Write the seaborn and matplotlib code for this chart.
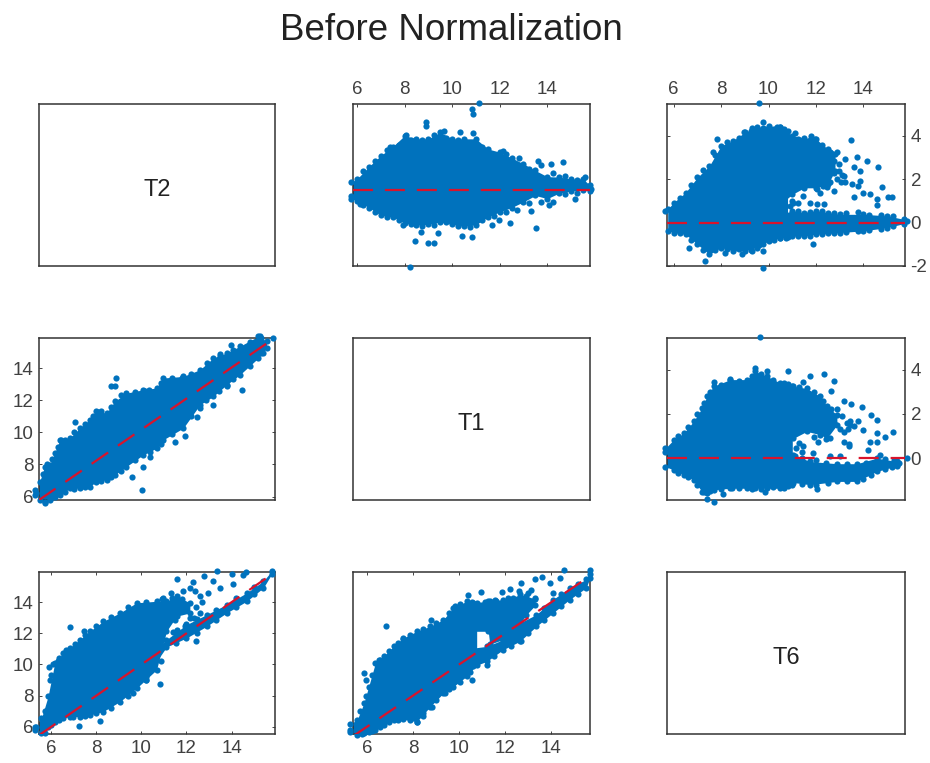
import matplotlib
matplotlib.use("Agg")
import matplotlib.pyplot as plt
import seaborn as sns

# The dense cores of the clouds cannot be read point by point, so each is an
# estimated envelope (x, upper, lower); separate dots are
# individually read values, including a run of dots along each bumpy edge.
BLUE = "#0072BD"
RED = "#d8142c"
TICKS = [6, 8, 10, 12, 14]

# Panel A: T2 / T1 (top middle)
a_band_x = [5.75,6,6.5,7,7.5,8,8.5,9,9.5,10,10.5,11,11.5,12,12.5,13,13.5,14,14.5,15,15.5,15.8]
a_band_up = [.36,.5,1.04,1.52,1.91,2.39,2.25,2.25,2.54,2.25,2.25,2.25,1.81,1.67,1.42,1.16,.87,.6,.58,.5,.5,.22]
a_band_lo = [-.36,-.46,-.75,-1.09,-1.16,-1.42,-1.52,-1.48,-1.38,-1.48,-1.57,-1.5,-1.16,-.94,-.75,-.5,-.22,-.36,-.12,-.03,.03,-.03]
a_x = [11.14,10.82,10.86,8.88,8.88,8.04,9.65,10.34,10.89,7.37,12.12,12.82,13.61,14.17,14.67,15.58,15.85,15.15,14.07,13.3,13.51,12.45,11.98,11.67,10.82,10.4,9.42,9.23,8.97,8.42,7.93,8.7,8.21,5.73,6.11,
       6.25,6.75,7.25,7.75,8.25,8.75,9.25,9.75,10.25,10.75,11.25,11.75,12.25,12.75,13.25,13.75,14.25,14.75,15.25,
       6.25,6.75,7.25,7.75,8.25,8.75,9.25,9.75,10.25,10.75,11.25,11.75,12.25,12.75,13.25,13.75,14.25,14.75,15.25]
a_y = [3.8,3.55,3.33,2.97,2.83,2.43,2.61,2.54,2.51,1.88,1.74,1.42,1.28,1.13,1.22,.58,.06,-.39,-.65,-.91,-1.62,-1.41,-1.3,-1.49,-2.03,-1.99,-1.88,-2.28,-2.28,-2.23,-1.49,-1.81,-3.33,-.26,-.58,
       .85,1.3,1.75,2,2.2,2.2,2.4,2.3,2.2,2,1.9,1.55,1.6,1.1,.95,1.1,.75,.62,.45,
       -.65,-.95,-1.15,-1.3,-1.45,-1.55,-1.5,-1.4,-1.55,-1.6,-1.3,-1.1,-.95,-.85,-.55,-.5,-.5,-.15,-.1]

# Panel B: T2 / T6 (top right)
b1_x = [5.75,6,6.5,7,7.5,8,8.5,9,9.5,10,10.5,10.8]
b1_up = [.62,.92,1.38,2.08,2.6,3.54,3.77,4.15,4.38,4.46,4.38,4.2]
b1_lo = [-.38,-.46,-.54,-1,-1.46,-1.15,-1.3,-1.3,-1.15,-.85,-.7,-.65]
b2_x = [10.5,11,11.5,12,12.5,12.8]
b2_up = [4.38,4,3.9,3.85,3.38,3.15]
b2_lo = [.85,1.3,1.6,1.6,1.77,2.38]
b3_x = [10.5,11,11.5,12,12.5,13,14,15,15.7]
b3_up = [.38,.54,.46,.54,.46,.38,.38,.31,.15]
b3_lo = [-.7,-.62,-.62,-.54,-.5,-.46,-.38,-.23,-.05]
b_x = [9.58,9.75,10.35,10.63,7.82,7.64,8.95,9.3,11.12,11.8,11.94,13.47,12.6,12.88,13.23,13.72,14.14,14.6,13.58,13.86,12.74,12.95,13.23,13.51,13.86,13.79,14.77,15.05,15.19,13.58,14,14.28,14.56,14.56,12.74,12.04,12.32,11.75,11.26,11.05,12.04,11.89,6.66,7.31,8.88,9.3,9.75,9.58,9.76,8.18,5.65,15.82,11.47,12.18,12.46,
       6.25,6.75,7.25,7.75,8.25,8.75,9.25,9.75,10.25,10.75,11.25,11.75,12.25,12.65,12.95,13.1,
       6.25,6.75,7.25,7.75,8.25,8.75,9.25,9.75,10.25,10.75,11.25,11.75,12.25,12.75,13.25,13.75,14.25,14.75,15.25,
       11.25,11.75,12.25,12.75,13.25,13.75,14.25,14.75,15.25,
       11,10.9,12.3,12.6,12.9,13.05,13.2,12.75]
b_y = [5.49,4.62,4.42,4.31,3.85,3.23,4.15,4.35,4.12,4,3.85,3.82,3.26,3.23,2.92,3,2.85,2.58,2.54,2.38,2.85,2.38,1.85,1.77,1.92,1.69,1.62,1.2,1.2,1.2,1.38,1.31,.82,1.08,1.46,1.54,.85,.92,.92,.92,.85,-1,-1.18,-1.77,-1.46,-1.31,-1.31,-1.03,-2.08,-1.38,.54,.08,1.23,1.38,1.62,
       1.15,1.75,2.4,3.1,3.7,3.9,4.2,4.35,4.3,4.1,3.85,3.8,3.55,3.2,2.7,2.2,
       -.5,-.8,-1.25,-1.25,-1.2,-1.2,-1.25,-1,-.8,-.7,-.62,-.6,-.52,-.5,-.45,-.4,-.35,-.28,-.18,
       .55,.5,.55,.42,.42,.48,.36,.36,.3,
       1,.75,1.7,1.85,2,1.85,2.15,2.3]

# Panel C: T1 vs T2 (middle left)
c_band_x = [5.6,5.82,6.03,6.25,6.46,6.68,7.1,7.53,7.96,8.25,8.68,9.03,9.53,10.25,10.82,11.1,11.96,12.68,13.25,13.82,14.39,15.18,15.53]
c_band_up = [6.42,6.94,7.87,7.98,8.7,9.53,9.64,10.26,10.78,11.3,11.2,11.93,12.44,12.65,12.76,13.38,13.48,13.9,14.63,14.94,15.36,15.98,15.67]
c_band_lo = [6.1,5.79,5.58,5.79,6,6.1,6.52,6.52,6.62,6.94,7.04,7.35,7.87,8.6,9.01,9.53,10.26,11.72,12.24,12.96,13.59,14.63,15.25]
c_x = [15.79,15.25,14,13.53,15.39,14.46,13.82,13.25,12.56,12.68,12.03,11.6,9.1,9.03,8.86,9.53,7.32,6.75,10.18,9.75,10.25,10.53,6.03,5.68,8.32,10.32,11.18,11.89,
       5.95,6.15,6.35,6.6,6.9,7.3,7.75,8.1,8.45,8.85,9.3,9.9,10.5,11,11.5,12.3,13,13.55,14.1,14.8,15.3,
       6.25,6.9,7.3,7.75,8.45,8.85,9.3,9.9,10.55,11,11.5,12.3,12.95,13.5,14.1,14.8,15.3]
c_y = [15.88,15.98,15.42,14.88,14.94,12.65,12.86,11.72,10.93,11.51,9.8,9.43,13.38,12.86,12.9,12.34,10.62,9.53,6.42,7.25,7.87,8.49,5.65,6.21,11.26,12.55,13.07,13.38,
       7.4,8,8.35,9.1,9.5,10,10.5,11,11.3,11.6,12.3,12.5,12.65,13.1,13.4,13.6,14.3,14.75,15.1,15.6,15.9,
       5.85,6.3,6.5,6.6,7,7.2,7.6,8.25,8.8,9.3,9.9,11,12,12.6,13.3,14.1,14.95]

# Panel D: T1 / T6 (middle right)
d1_x = [5.65,6,6.42,6.84,7.19,7.4,7.68,8.39,9.09,9.44,9.93,10.49,11.0]
d1_up = [.45,.83,1.13,1.66,2.26,2.79,3.25,3.55,3.55,3.92,3.7,3.4,3.25]
d1_lo = [-.38,-.53,-.75,-.98,-1.51,-1.58,-1.43,-1.36,-1.36,-1.36,-1.36,-1.36,-1.2]
d2_x = [10.63,11.05,11.61,12.18,12.46,12.88]
d2_up = [3.4,3.25,3.15,2.79,2.34,1.96]
d2_lo = [1.06,.9,1.21,1.06,.9,1.5]
d3_x = [10.63,11.05,11.75,12.88,13.72,14.56,15.4]
d3_up = [.2,.15,-.15,-.25,-.25,0,-.15]
d3_lo = [-1.3,-1.1,-1.2,-1.05,-1.05,-.6,-.35]
d_x = [9.65,9.44,9.93,10.81,12.34,11.75,12.74,11.47,7.68,7.52,8.39,12.64,13.16,13.48,13.93,14.31,14.56,13.44,13.79,14,14.56,15.24,14.91,14.56,14.28,14.21,13.37,13.16,12.6,12.6,13.02,11.47,11.4,11.89,12.04,14.7,15.82,9.86,10.63,10.21,8.46,8.08,7.68,7.4,5.65,15.4,13.44,12.32,12.18,
       6.2,6.6,7,7.3,7.55,8,8.75,9.3,9.7,10.2,10.8,11.3,11.9,12.3,12.65,
       6.2,6.6,7,7.3,7.55,8,8.75,9.3,9.7,10.2,10.8,11.4,12,12.5,13.3,14,14.3,14.9,15.2,15.5,
       11.4,12,12.4,13.3,14.1,14.9,15.3,
       12.9,13.1,13.3,13,12.75,12.4,12.1,11.9,11.3,11.15,11.1,13.35,13.6,13.2,13.4]
d_y = [5.48,4.08,3.92,3.92,3.82,3.7,3.5,3.44,3.44,2.87,3.59,3.02,2.57,2.45,2.29,1.96,1.74,1.66,1.66,1.28,1.13,1.18,.94,.75,.75,.38,.63,1.18,.91,.08,.08,.53,.3,.23,-1.39,.15,.03,-1.55,-1.36,-1.21,-1.36,-1.63,-1.96,-1.84,.3,-.3,1.51,1.21,1.51,
       1,1.4,2,2.5,3,3.3,3.5,3.7,3.8,3.55,3.35,3.2,3,2.6,2.2,
       -.65,-.85,-1.2,-1.55,-1.5,-1.4,-1.35,-1.4,-1.4,-1.3,-1.25,-1.15,-1.2,-1.1,-1.05,-.95,-.75,-.5,-.4,-.2,
       0,-.1,-.2,-.25,-.2,-.05,-.1,
       2.2,1.9,1.6,1.3,1.6,.85,.75,.95,.7,.45,.1,1.3,1.45,.75,.55]

# Panel E: T6 vs T2 (bottom left)
e1_x = [5.26,5.56,5.85,6.15,6.52,6.81,7.26,7.7,8.3,9.04,9.78,10.67,11.11,11.56,12.15]
e1_up = [6,6.54,7.94,10.09,10.73,11.05,11.59,12.13,12.77,13.31,13.96,14.06,14.06,14.39,13.96]
e1_lo = [5.78,5.57,6,6.32,6.54,6.65,6.65,6.75,6.97,7.61,8.47,9.66,12.13,13.1,13.31]
e2_x = [10.2,11.11,12,12.89,13.78,14.67,15.41,15.78]
e2_up = [10.4,11.59,12.56,13.2,13.85,14.6,15.35,16]
e2_lo = [9.2,11.12,11.7,12.45,13.31,14.06,14.92,15.8]
e_x = [6.81,7.44,5.9,6,6.3,10.81,10.22,9.63,7.21,8.15,11.59,12.27,12.15,12.37,12.77,13.36,14,14.49,14.64,13.19,13.48,14.07,11.85,11.33,10.96,12.44,11.56,11.93,11.48,12.15,12.59,12.96,5.33,
       5.7,5.95,6.05,6.35,6.65,7.05,7.5,8,8.65,9.4,10.2,10.9,11.35,11.8,
       5.7,6,6.35,6.95,7.5,8,8.65,9.4,10.2,10.85,
       12.4,12.6,12.35,12.7,12,11.4,12.2,
       11.55,12.45,13.3,14.2,15,11.55,12.45,13.3,14.2,15]
e_y = [12.39,12.13,9.83,9.29,10.19,8.73,9.01,8.19,6.06,6.39,15.51,15.29,14.92,14.71,15.68,16,15.78,15.74,15.94,15.35,14.92,15.14,14.71,14.6,14.28,11.48,12.24,12.45,12.88,12.99,14.39,14.6,6,
       7,9,10,10.4,10.9,11.3,11.9,12.45,13.05,13.7,14,14.2,14.3,14.2,
       5.6,6.1,6.4,6.6,6.7,6.85,7.2,8,9,10.2,
       13.7,13.3,13,14,12.6,12.1,12.4,
       12.1,12.9,13.5,14.3,14.95,11.4,12.05,12.85,13.7,14.5]

# Panel F: T6 vs T1 (bottom middle)
f1_x = [5.28,5.57,5.86,6.07,6.36,6.72,7.15,7.58,8.16,8.74,9.31,9.75,10.32,10.76]
f1_up = [6.2,6.43,7.5,8.58,10.09,10.52,11.16,11.7,12.13,12.45,12.88,13.63,14.06,13.96]
f1_lo = [5.68,5.46,5.57,5.68,5.78,6.11,6.43,6.47,6.32,7.29,8.15,8.58,9.23,9.98]
f2_x = [10.6,11.26,11.33,11.91,12.34,12.63,12.92,13.3]
f2_up = [13.96,14.06,14.06,14.17,14.3,14.5,14.39,14.2]
f2_lo = [12.13,12.13,11.3,11.6,12,12.6,13.2,13.8]
f3_x = [10.61,11.19,11.91,12.63,13.35,14.07,14.79,15.51,15.68]
f3_up = [11.05,11.16,11.59,12.67,13.2,14.17,14.92,15.46,15.8]
f3_lo = [9.87,10.19,10.95,11.48,12.45,13.31,14.17,14.92,15.57]
f_x = [6.82,8.77,5.86,5.97,6.5,7.58,9.82,10.37,10.93,11.86,12.7,13.31,13.59,14.57,14.36,13.95,14.07,15.68,12.2,11.55,12.92,12.7,8.81,8.45,8.16,10.54,9.39,11.19,5.28,
       5.7,5.95,6.2,6.55,6.95,7.35,7.85,8.45,9,9.55,10.05,10.55,11.1,11.6,12.1,12.6,13,13.3,13.1,
       5.8,6.2,6.55,6.95,7.35,7.85,8.45,9,9.55,10.05,10.45,11.5,12.25,13,13.7,14.4,15.15,
       13.7,14.4,15.15]
f_y = [12.49,12.88,9.44,8.97,10.3,11.63,13.74,14.45,14.65,14.65,15.25,15.46,15.61,16.04,15.57,15.25,14.6,16.04,14.82,14.17,13.74,11.48,7.29,6.69,6.32,9.01,8.15,9.98,5.78,
       7,8,9.3,10.3,10.85,11.4,11.9,12.3,12.65,13.3,13.9,14,14,14.1,14.3,14.7,14.6,14.3,14.8,
       5.55,5.7,6,6.3,6.45,6.4,6.85,7.7,8.4,8.9,9.5,10.55,11.2,12,12.85,13.75,14.55,
       13.6,14.55,15.2]

sns.set_theme(style="white")
plt.rcParams["font.family"] = ["Liberation Sans", "DejaVu Sans"]
plt.rcParams["lines.scale_dashes"] = False
plt.rcParams["axes.unicode_minus"] = False

W, H = 930, 763
fig = plt.figure(figsize=(W / 100, H / 100), dpi=100, facecolor="white")


def make_axes(left, top, right, bottom):
    ax = fig.add_axes([left / W, 1 - bottom / H, (right - left) / W, (bottom - top) / H])
    for s in ax.spines.values():
        s.set_color("#333333")
        s.set_linewidth(1.1)
    ax.set_xticks([])
    ax.set_yticks([])
    return ax


def style(ax, xlim, ylim, xt=False, yt=None, xside=None, yside=None):
    ax.set_xlim(xlim)
    ax.set_ylim(ylim)
    if xt:
        ax.set_xticks(TICKS)
    if yt is not None:
        ax.set_yticks(yt)
    ax.tick_params(axis="both", which="both", direction="in", length=2.2, width=.7,
                   color="#444444", labelcolor="#404040", labelsize=13.5, pad=4,
                   top=xt, bottom=xt, left=yt is not None, right=yt is not None,
                   labeltop=xside == "top", labelbottom=xside == "bottom",
                   labelleft=yside == "left", labelright=yside == "right")


def cloud(ax, bands, px, py):
    for bx, bu, bl in bands:
        ax.fill_between(bx, bl, bu, color=BLUE, linewidth=0, zorder=2)
        sns.scatterplot(x=bx + bx, y=bu + bl, ax=ax, color=BLUE, s=20, linewidth=0,
                        clip_on=False, zorder=3, legend=False)
    sns.scatterplot(x=px, y=py, ax=ax, color=BLUE, s=20, linewidth=0, clip_on=False, zorder=3, legend=False)


def ref(ax, lx, ly):
    sns.lineplot(x=lx, y=ly, ax=ax, color=RED, linewidth=1.6, linestyle=(0, (14.4, 8.6)),
                 estimator=None, sort=False, legend=False, zorder=4)


def label(ax, txt):
    ax.text(.5, .5 - 5 / 162, txt, transform=ax.transAxes, ha="center", va="center",
            fontsize=17, color="#222222")


# top row
ax = make_axes(39, 104, 275, 266)
label(ax, "T2")

ax = make_axes(353, 104, 590, 266)
cloud(ax, [(a_band_x, a_band_up, a_band_lo)], a_x, a_y)
ref(ax, [5.83, 15.8], [0, 0])
style(ax, (5.83, 15.8), (-3.3, 3.77), xt=True, xside="top")

ax = make_axes(667, 104, 905, 266)
cloud(ax, [(b1_x, b1_up, b1_lo), (b2_x, b2_up, b2_lo), (b3_x, b3_up, b3_lo)], b_x, b_y)
ref(ax, [5.72, 15.75], [0, 0])
style(ax, (5.72, 15.75), (-2, 5.46), xt=True, yt=[-2, 0, 2, 4], xside="top", yside="right")

# middle row
ax = make_axes(39, 338, 275, 500)
cloud(ax, [(c_band_x, c_band_up, c_band_lo)], c_x, c_y)
ref(ax, [5.79, 15.89], [5.79, 15.89])
style(ax, (5.79, 15.89), (5.79, 15.87), yt=TICKS, yside="left")

ax = make_axes(353, 338, 590, 500)
label(ax, "T1")

ax = make_axes(667, 338, 905, 500)
cloud(ax, [(d1_x, d1_up, d1_lo), (d2_x, d2_up, d2_lo), (d3_x, d3_up, d3_lo)], d_x, d_y)
ref(ax, [5.72, 15.75], [0, 0])
style(ax, (5.72, 15.75), (-1.89, 5.43), yt=[0, 2, 4], yside="right")

# bottom row
ax = make_axes(39, 572, 275, 734)
cloud(ax, [(e1_x, e1_up, e1_lo), (e2_x, e2_up, e2_lo)], e_x, e_y)
ref(ax, [5.45, 15.93], [5.45, 15.93])
style(ax, (5.45, 15.93), (5.53, 15.94), xt=True, yt=TICKS, xside="bottom", yside="left")

ax = make_axes(353, 572, 590, 734)
cloud(ax, [(f1_x, f1_up, f1_lo), (f2_x, f2_up, f2_lo), (f3_x, f3_up, f3_lo)], f_x, f_y)
ref(ax, [5.39, 15.68], [5.39, 15.68])
style(ax, (5.39, 15.68), (5.53, 15.94), xt=True, xside="bottom")

ax = make_axes(667, 572, 905, 734)
label(ax, "T6")

fig.text(451 / W, 1 - 30 / H, "Before Normalization", ha="center", va="center", fontsize=26.5, color="#222222")

fig.savefig("out.png", dpi=100)
